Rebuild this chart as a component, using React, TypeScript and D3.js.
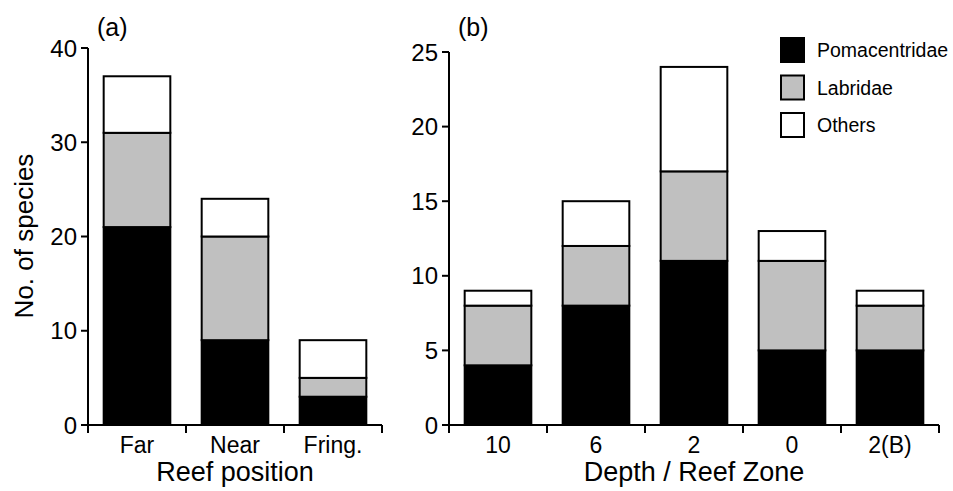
import * as d3 from "d3";

const positions = ["Far", "Near", "Fring."];
const posPoma = [21, 9, 3];
const posLabr = [10, 11, 2];
const posOther = [6, 4, 4];

const zones = ["10", "6", "2", "0", "2(B)"];
const zonePoma = [4, 8, 11, 5, 5];
const zoneLabr = [4, 4, 6, 6, 3];
const zoneOther = [1, 3, 7, 2, 1];

const families = ["Pomacentridae", "Labridae", "Others"];
const fills = ["#000000", "#c0c0c0", "#ffffff"];

const FONT = "'Liberation Sans', Arial, sans-serif";

interface PanelProps {
  cats: string[];
  series: number[][];
  yMax: number;
  yTicks: number[];
  x0: number;
  x1: number;
  yTop: number;
  yBottom: number;
  tag: string;
  xTitle: string;
}

function Panel({ cats, series, yMax, yTicks, x0, x1, yTop, yBottom, tag, xTitle }: PanelProps) {
  const x = d3.scaleBand<string>().domain(cats).range([x0, x1]).padding(0);
  const y = d3.scaleLinear().domain([0, yMax]).range([yBottom, yTop]);
  const bw = x.bandwidth() * 0.68;
  const stacked = cats.map((c, i) => {
    let acc = 0;
    return series.map((s, k) => {
      const lo = acc;
      acc += s[i];
      return { c, k, lo, hi: acc };
    });
  });
  const bounds = cats.map((c) => x(c) as number).concat([x1]);

  return (
    <g fontFamily={FONT} fill="#000">
      <text x={x0 + 9} y={36} fontSize={25}>{tag}</text>
      {stacked.flat().map((d) => (
        <rect
          key={d.c + d.k}
          x={(x(d.c) as number) + (x.bandwidth() - bw) / 2}
          y={y(d.hi)}
          width={bw}
          height={y(d.lo) - y(d.hi)}
          fill={fills[d.k]}
          stroke="#000"
          strokeWidth={2}
        />
      ))}
      <line x1={x0} x2={x0} y1={yTop} y2={yBottom} stroke="#000" strokeWidth={2} />
      <line x1={x0} x2={x1} y1={yBottom} y2={yBottom} stroke="#000" strokeWidth={2} />
      {yTicks.map((t) => (
        <g key={t}>
          <line x1={x0 - 7} x2={x0} y1={y(t)} y2={y(t)} stroke="#000" strokeWidth={2} />
          <text x={x0 - 11} y={y(t)} dy="0.36em" textAnchor="end" fontSize={24}>{t}</text>
        </g>
      ))}
      {bounds.map((b, i) => (
        <line key={i} x1={b} x2={b} y1={yBottom} y2={yBottom + 8} stroke="#000" strokeWidth={2} />
      ))}
      {cats.map((c) => (
        <text key={c} x={(x(c) as number) + x.bandwidth() / 2} y={yBottom + 28} textAnchor="middle" fontSize={23}>
          {c}
        </text>
      ))}
      <text x={(x0 + x1) / 2} y={yBottom + 56} textAnchor="middle" fontSize={27}>{xTitle}</text>
    </g>
  );
}

export default function App() {
  return (
    <svg width={953} height={491} style={{ position: "absolute", left: 0, top: 0, background: "#fff" }}>
      <Panel
        cats={positions}
        series={[posPoma, posLabr, posOther]}
        yMax={40}
        yTicks={[0, 10, 20, 30, 40]}
        x0={88}
        x1={382}
        yTop={48}
        yBottom={425}
        tag="(a)"
        xTitle="Reef position"
      />
      <text
        transform="translate(33,236) rotate(-90)"
        textAnchor="middle"
        fontFamily={FONT}
        fontSize={26}
      >
        No. of species
      </text>
      <Panel
        cats={zones}
        series={[zonePoma, zoneLabr, zoneOther]}
        yMax={25}
        yTicks={[0, 5, 10, 15, 20, 25]}
        x0={449}
        x1={939}
        yTop={52}
        yBottom={425}
        tag="(b)"
        xTitle="Depth / Reef Zone"
      />
      <g fontFamily={FONT}>
        {families.map((f, i) => (
          <g key={f} transform={`translate(781,${38 + i * 37.5})`}>
            <rect x={0} y={0} width={23} height={24} fill={fills[i]} stroke="#000" strokeWidth={2} />
            <text x={36} y={12} dy="0.36em" fontSize={19.5}>{f}</text>
          </g>
        ))}
      </g>
    </svg>
  );
}
